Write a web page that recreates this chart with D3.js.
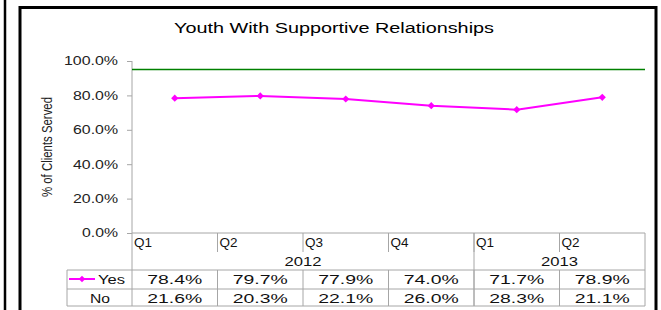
<!DOCTYPE html>
<html lang="en">
<head>
<meta charset="UTF-8">
<title>Youth With Supportive Relationships</title>
<script src="https://d3js.org/d3.v7.min.js"></script>
<style>
html, body { margin: 0; padding: 0; background: #fff; }
svg { display: block; font-family: "Liberation Sans", Arial, sans-serif; }
</style>
</head>
<body>
<script>
// chart data
const quarters = ["Q1", "Q2", "Q3", "Q4", "Q1", "Q2"];
const yearLabels = ["2012", "2013"];
const yearSpans = [4, 2];
const yesValues = [0.784, 0.797, 0.779, 0.740, 0.717, 0.789];
const noValues = [0.216, 0.203, 0.221, 0.260, 0.283, 0.211];
const targetValue = 0.95;
const yTicks = [0, 0.2, 0.4, 0.6, 0.8, 1.0];

const w = 661, h = 310;
const plotLeft = 132, plotRight = 645, plotTop = 61, plotBottom = 233;
const rowQ = 252, rowYes = 270, rowNo = 289, rowEnd = 306, legendLeft = 67;
const gridColor = "#a6a6a6";
const fs = 12;

const svg = d3.select("body").append("svg").attr("width", w).attr("height", h);

// stretch text horizontally to the widths seen in the picture
function fit(sel, width) {
    sel.attr("textLength", width).attr("lengthAdjust", "spacingAndGlyphs");
    return sel;
}

// outer frame
svg.append("line").attr("x1", 5).attr("x2", 5).attr("y1", 0).attr("y2", h)
    .attr("stroke", "#000").attr("stroke-width", 2.5);
svg.append("rect").attr("x", 20).attr("y", 7.5).attr("width", 636).attr("height", 400)
    .attr("fill", "none").attr("stroke", "#000").attr("stroke-width", 3);

fit(svg.append("text").attr("x", 334).attr("y", 33).attr("text-anchor", "middle")
    .attr("font-size", 14).attr("fill", "#000").text("Youth With Supportive Relationships"), 320);

const x = d3.scaleBand().domain(d3.range(quarters.length)).range([plotLeft, plotRight]);
const y = d3.scaleLinear().domain([0, 1]).range([plotBottom, plotTop]);

// y axis
const yAxis = svg.append("g").attr("transform", `translate(${plotLeft},0)`)
    .call(d3.axisLeft(y).tickValues(yTicks).tickFormat(d3.format(".1%")).tickSize(5).tickPadding(9));
yAxis.select(".domain").remove();
yAxis.selectAll(".tick line").attr("stroke", gridColor);
yAxis.selectAll(".tick text").attr("font-size", fs).attr("fill", "#222")
    .attr("font-family", "Liberation Sans, Arial, sans-serif")
    .each(function () { fit(d3.select(this), d3.select(this).text().length * 9); });

fit(svg.append("text").attr("transform", `translate(52,${(plotTop + plotBottom) / 2}) rotate(-90)`)
    .attr("text-anchor", "middle").attr("font-size", 15).attr("fill", "#222")
    .text("% of Clients Served"), 100);

// table grid
const lines = svg.append("g").attr("stroke", gridColor).attr("stroke-width", 1);
lines.append("line").attr("x1", plotLeft).attr("x2", plotLeft).attr("y1", plotTop).attr("y2", rowEnd);
lines.append("line").attr("x1", plotLeft).attr("x2", plotRight).attr("y1", plotBottom).attr("y2", plotBottom);
lines.append("line").attr("x1", plotRight).attr("x2", plotRight).attr("y1", plotBottom).attr("y2", rowEnd);
lines.append("line").attr("x1", legendLeft).attr("x2", legendLeft).attr("y1", rowYes).attr("y2", rowEnd);
[rowYes, rowNo, rowEnd].forEach(r => {
    lines.append("line").attr("x1", legendLeft).attr("x2", plotRight).attr("y1", r).attr("y2", r);
});
d3.range(1, quarters.length).forEach(i => {
    lines.append("line").attr("x1", x(i)).attr("x2", x(i)).attr("y1", plotBottom).attr("y2", rowQ);
    lines.append("line").attr("x1", x(i)).attr("x2", x(i)).attr("y1", rowYes).attr("y2", rowEnd);
});
let start = 0;
yearSpans.forEach((span, k) => {
    const x0 = x(start), x1 = x(start) + span * x.bandwidth();
    if (k > 0) lines.append("line").attr("x1", x0).attr("x2", x0).attr("y1", plotBottom).attr("y2", rowEnd);
    fit(svg.append("text").attr("x", (x0 + x1) / 2).attr("y", rowQ + 14).attr("text-anchor", "middle")
        .attr("font-size", fs).attr("fill", "#111").text(yearLabels[k]), 37);
    start += span;
});

quarters.forEach((q, i) => {
    fit(svg.append("text").attr("x", x(i) + 2).attr("y", plotBottom + 14)
        .attr("font-size", fs).attr("fill", "#111").text(q), 18);
});

const fmt = d3.format(".1%");
[[yesValues, rowYes], [noValues, rowNo]].forEach(([vals, r]) => {
    vals.forEach((v, i) => {
        fit(svg.append("text").attr("x", x(i) + x.bandwidth() / 2).attr("y", r + 14)
            .attr("text-anchor", "middle").attr("font-size", fs).attr("fill", "#111").text(fmt(v)), 55);
    });
});

// legend cells
const magenta = "#ff00ff";
svg.append("line").attr("x1", 69).attr("x2", 95).attr("y1", rowYes + 9).attr("y2", rowYes + 9)
    .attr("stroke", magenta).attr("stroke-width", 2);
svg.append("path").attr("d", d3.symbol(d3.symbolSquare, 22)())
    .attr("transform", `translate(82,${rowYes + 9}) rotate(45)`).attr("fill", magenta);
fit(svg.append("text").attr("x", 98).attr("y", rowYes + 14).attr("font-size", fs).attr("fill", "#111").text("Yes"), 27);
fit(svg.append("text").attr("x", 100).attr("y", rowNo + 14).attr("text-anchor", "middle")
    .attr("font-size", fs).attr("fill", "#111").text("No"), 20);

// target line
svg.append("line").attr("x1", plotLeft).attr("x2", plotRight).attr("y1", y(targetValue)).attr("y2", y(targetValue))
    .attr("stroke", "#008000").attr("stroke-width", 1.5);

// series
const cx = i => x(i) + x.bandwidth() / 2;
svg.append("path").datum(yesValues)
    .attr("d", d3.line().x((d, i) => cx(i)).y(d => y(d)))
    .attr("fill", "none").attr("stroke", magenta).attr("stroke-width", 2);
svg.selectAll(".marker").data(yesValues).enter().append("path").attr("class", "marker")
    .attr("d", d3.symbol(d3.symbolSquare, 26)())
    .attr("transform", (d, i) => `translate(${cx(i)},${y(d)}) rotate(45)`)
    .attr("fill", magenta);
</script>
</body>
</html>
